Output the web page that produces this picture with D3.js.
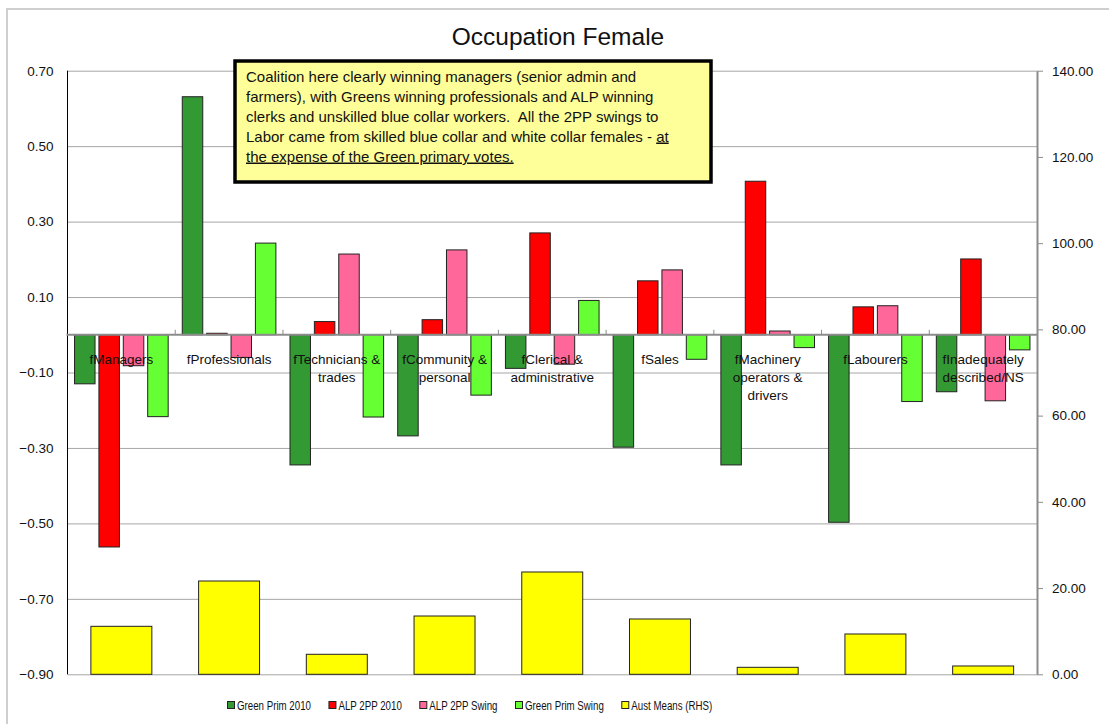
<!DOCTYPE html>
<html>
<head>
<meta charset="utf-8">
<script src="https://d3js.org/d3.v7.min.js"></script>
<style>
body { margin: 0; background: #fff; }
svg text { font-family: "Liberation Sans", Arial, sans-serif; fill: #111; }
</style>
</head>
<body>
<svg id="chart" width="1109" height="724"></svg>
<script>
// data
const categories = ["fManagers", "fProfessionals", "fTechnicians & trades", "fCommunity & personal",
    "fClerical & administrative", "fSales", "fMachinery operators & drivers", "fLabourers",
    "fInadequately described/NS"];
const seriesNames = ["Green Prim 2010", "ALP 2PP 2010", "ALP 2PP Swing", "Green Prim Swing"];
const seriesColors = ["#339933", "#ff0000", "#ff6699", "#66ff33"];
const greenPrim2010 = [-0.13, 0.631, -0.345, -0.268, -0.089, -0.298, -0.345, -0.497, -0.151];
const alp2pp2010 = [-0.5625, 0.004, 0.035, 0.04, 0.27, 0.143, 0.407, 0.074, 0.201];
const alp2ppSwing = [-0.082, -0.06, 0.214, 0.225, -0.078, 0.172, 0.01, 0.077, -0.175];
const greenPrimSwing = [-0.217, 0.243, -0.218, -0.16, 0.091, -0.065, -0.034, -0.177, -0.04];
const austMeans = [11.13, 21.64, 4.64, 13.52, 23.73, 12.83, 1.62, 9.35, 1.93];
const austName = "Aust Means (RHS)";
const austColor = "#ffff00";
const leftTicks = [0.7, 0.5, 0.3, 0.1, -0.1, -0.3, -0.5, -0.7, -0.9];
const rightTicks = [0, 20, 40, 60, 80, 100, 120, 140];

const noteLines = [
    [{ t: "Coalition here clearly winning managers (senior admin and" }],
    [{ t: "farmers), with Greens winning professionals and ALP winning" }],
    [{ t: "clerks and unskilled blue collar workers.  All the 2PP swings to" }],
    [{ t: "Labor came from skilled blue collar and white collar females - " }, { t: "at", u: true }],
    [{ t: "the expense of the Green primary votes.", u: true }]
];

const svg = d3.select("#chart");
const plotLeft = 67.5, plotRight = 1037, plotTop = 70.7, plotBottom = 674.3;

const x = d3.scaleBand().domain(categories).range([plotLeft, plotRight]);
const xs = d3.scaleBand().domain(seriesNames).range([0, x.bandwidth()])
    .paddingInner(0.16).paddingOuter(0.289);
const y = d3.scaleLinear().domain([-0.9, 0.7]).range([plotBottom, plotTop]);
const y2 = d3.scaleLinear().domain([0, 140]).range([plotBottom, plotTop]);

// outer frame
svg.append("rect")
    .attr("x", 7).attr("y", 9).attr("width", 1120).attr("height", 740)
    .attr("fill", "none").attr("stroke", "#cfcfcf").attr("stroke-width", 2);

// title
svg.append("text")
    .attr("x", 558).attr("y", 45)
    .attr("text-anchor", "middle")
    .style("font-size", "24.5px")
    .text("Occupation Female");

// gridlines
svg.append("g")
    .attr("transform", `translate(${plotLeft},0)`)
    .call(d3.axisLeft(y).tickValues(leftTicks).tickSize(-(plotRight - plotLeft)).tickFormat(""))
    .call(g => g.select(".domain").remove())
    .call(g => g.selectAll("line").attr("stroke", "#a6a6a6"));

// left axis labels
svg.append("g")
    .attr("transform", `translate(${plotLeft},0)`)
    .call(d3.axisLeft(y).tickValues(leftTicks).tickSize(0).tickPadding(14).tickFormat(d3.format(".2f")))
    .call(g => g.select(".domain").remove())
    .call(g => g.selectAll("text").style("font-size", "13.5px").attr("fill", "#111"));

// right axis
svg.append("g")
    .attr("transform", `translate(${plotRight},0)`)
    .call(d3.axisRight(y2).tickValues(rightTicks).tickSize(6).tickSizeOuter(0).tickPadding(9).tickFormat(d3.format(".2f")))
    .call(g => g.select(".domain").attr("stroke", "#8c8c8c").attr("stroke-width", 2))
    .call(g => g.selectAll("line").attr("stroke", "#8c8c8c"))
    .call(g => g.selectAll("text").style("font-size", "13.5px").attr("fill", "#111"));

// secondary series bars (yellow)
const yw = x.bandwidth() * 0.566;
svg.append("g").selectAll("rect")
    .data(austMeans)
    .join("rect")
    .attr("x", (d, i) => x(categories[i]) + (x.bandwidth() - yw) / 2)
    .attr("y", d => y2(d))
    .attr("width", yw)
    .attr("height", d => y2(0) - y2(d))
    .attr("fill", austColor)
    .attr("stroke", "#222").attr("stroke-width", 1);

// primary series bars
const allSeries = [greenPrim2010, alp2pp2010, alp2ppSwing, greenPrimSwing];
allSeries.forEach((vals, s) => {
    svg.append("g").selectAll("rect")
        .data(vals)
        .join("rect")
        .attr("x", (d, i) => x(categories[i]) + xs(seriesNames[s]))
        .attr("y", d => y(Math.max(0, d)))
        .attr("width", xs.bandwidth())
        .attr("height", d => Math.abs(y(d) - y(0)))
        .attr("fill", seriesColors[s])
        .attr("stroke", "#222").attr("stroke-width", 1);
});

// left axis line
svg.append("line")
    .attr("x1", plotLeft).attr("x2", plotLeft).attr("y1", plotTop).attr("y2", plotBottom)
    .attr("stroke", "#000").attr("stroke-width", 1);

// zero axis with category ticks
svg.append("line")
    .attr("x1", plotLeft - 1).attr("x2", plotRight).attr("y1", y(0)).attr("y2", y(0))
    .attr("stroke", "#8c8c8c").attr("stroke-width", 2);
svg.append("g").selectAll("line")
    .data(categories.slice(1))
    .join("line")
    .attr("x1", d => x(d)).attr("x2", d => x(d))
    .attr("y1", y(0) - 5).attr("y2", y(0))
    .attr("stroke", "#8c8c8c");

// category labels, wrapped to the band width
const labels = svg.append("g").selectAll("text")
    .data(categories)
    .join("text")
    .attr("text-anchor", "middle")
    .style("font-size", "13.5px")
    .attr("x", d => x(d) + x.bandwidth() / 2)
    .attr("y", y(0) + 29.5);

labels.each(function (d) {
    const t = d3.select(this);
    const cx = x(d) + x.bandwidth() / 2;
    const words = d.split(" ");
    let line = [];
    let tspan = t.append("tspan").attr("x", cx).attr("dy", 0);
    words.forEach(w => {
        line.push(w);
        tspan.text(line.join(" "));
        if (tspan.node().getComputedTextLength() > x.bandwidth() - 4 && line.length > 1) {
            line.pop();
            tspan.text(line.join(" "));
            line = [w];
            tspan = t.append("tspan").attr("x", cx).attr("dy", 18).text(w);
        }
    });
});

// annotation box
const note = svg.append("g");
note.append("rect")
    .attr("x", 235).attr("y", 61).attr("width", 476).attr("height", 121)
    .attr("fill", "#ffff99").attr("stroke", "#000").attr("stroke-width", 3.5);
const noteText = note.append("text")
    .style("font-size", "15px")
    .style("white-space", "pre")
    .attr("x", 246).attr("y", 81.5);
noteLines.forEach((parts, i) => {
    parts.forEach((p, j) => {
        const ts = noteText.append("tspan").text(p.t);
        if (j === 0) ts.attr("x", 246).attr("dy", i === 0 ? 0 : 20);
        if (p.u) ts.style("text-decoration", "underline");
    });
});

// legend (squeezed horizontally like the narrow original font)
const legendNames = seriesNames.concat([austName]);
const legendColors = seriesColors.concat([austColor]);
const squeeze = 0.72;
let lx = 227.5;
const legend = svg.append("g");
legendNames.forEach((name, i) => {
    legend.append("rect")
        .attr("x", lx).attr("y", 701.5).attr("width", 7).attr("height", 7)
        .attr("fill", legendColors[i]).attr("stroke", "#222").attr("stroke-width", 1);
    const t = legend.append("text")
        .attr("transform", `translate(${lx + 9.5},710) scale(${squeeze},1)`)
        .style("font-size", "13.5px")
        .text(name);
    lx += 9.5 + t.node().getComputedTextLength() * squeeze + 18;
});
</script>
</body>
</html>
